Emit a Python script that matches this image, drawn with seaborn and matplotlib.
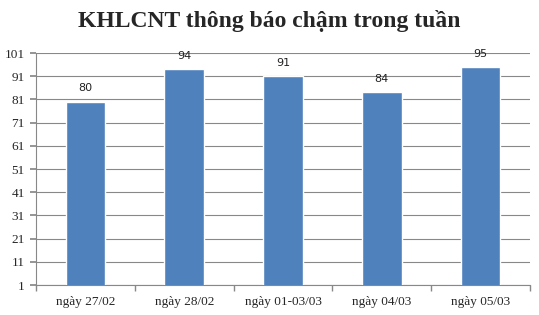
import matplotlib
matplotlib.use("Agg")
import matplotlib.pyplot as plt
import seaborn as sns
import pandas as pd
import numpy as np

categories = ["ngày 27/02", "ngày 28/02", "ngày 01-03/03", "ngày 04/03", "ngày 05/03"]
values = [80, 94, 91, 84, 95]
yticks = [1, 11, 21, 31, 41, 51, 61, 71, 81, 91, 101]

sns.set_theme(style="white")
plt.rcParams['font.family'] = ['Liberation Serif', 'DejaVu Serif']

fig = plt.figure(figsize=(5.39, 3.15), dpi=100)
W, H = 539, 315
ax = fig.add_axes([36 / W, 1 - 285 / H, (530 - 36) / W, (285 - 53) / H])

df = pd.DataFrame({"cat": categories, "val": values})
sns.barplot(data=df, x="cat", y="val", color="#4F81BD", width=0.4, saturation=1, ax=ax, zorder=3)

ax.set_ylim(1, 101)
ax.set_xlim(-0.5, len(categories) - 0.5)
ax.set_yticks(yticks)
ax.set_yticklabels([str(t) for t in yticks], fontsize=9.5, family=['Liberation Serif'])
ax.yaxis.grid(True, color="#888888", linewidth=0.8, zorder=0)
ax.set_axisbelow(True)
ax.set_xlabel("")
ax.set_ylabel("")

ax.set_xticks(range(len(categories)))
ax.set_xticklabels(categories, fontsize=9.5, family=['Liberation Serif'])
ax.tick_params(axis='x', length=0, pad=8)
ax.set_xticks(np.arange(-0.5, len(categories), 1.0), minor=True)
ax.tick_params(axis='x', which='minor', length=4, color="#888888", direction='out', bottom=True)
ax.tick_params(axis='y', length=4, color="#888888", direction='out', left=True, pad=4)

for s in ["top", "right"]:
    ax.spines[s].set_visible(False)
for s in ["left", "bottom"]:
    ax.spines[s].set_color("#888888")
    ax.spines[s].set_linewidth(0.8)

for i, v in enumerate(values):
    ax.annotate(str(v), (i, v), xytext=(0, 6), textcoords="offset points",
                ha="center", va="bottom", fontsize=8, family=['DejaVu Sans'], color="#222222")

fig.text(0.5, 1 - 21 / H, "KHLCNT thông báo chậm trong tuần", ha="center", va="center",
         fontsize=17, fontweight="bold", family=['Liberation Serif'])

fig.savefig("out.png", dpi=100, facecolor="white")
